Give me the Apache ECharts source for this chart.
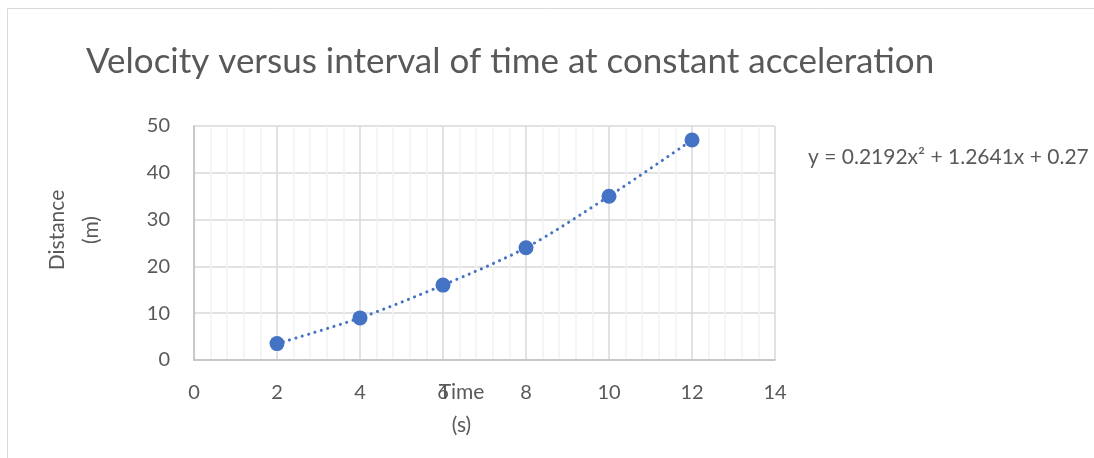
<!DOCTYPE html>
<html>
<head>
<meta charset="utf-8">
<script src="https://cdn.jsdelivr.net/npm/echarts@6/dist/echarts.min.js"></script>
<style>
    html, body { margin: 0; padding: 0; background: #fff; }
    #chart { width: 1094px; height: 458px; }
</style>
</head>
<body>
<div id="chart"></div>
<script type="text/javascript">
    // time (s) and distance (m)
    var timeValues = [2, 4, 6, 8, 10, 12];
    var distanceValues = [3.5, 9, 16, 24, 35, 47];
    // trendline equation shown beside the plot
    var trendCoefs = ['0.2192', '1.2641', '0.27'];

    var points = timeValues.map(function(t, i) {
        return [t, distanceValues[i]];
    });

    var font = 'Lato';
    var grey = '#595959';
    var blue = '#4472C4';

    var myChart = echarts.init(document.getElementById('chart'));
    var option = {
        animation: false,
        backgroundColor: '#fff',
        title: {
            text: 'Velocity versus interval of time at constant acceleration',
            left: 81,
            top: 39,
            textStyle: { fontFamily: font, fontSize: 35, fontWeight: 'normal', color: grey }
        },
        graphic: [
            {
                type: 'rect',
                shape: { x: 7.5, y: 8.5, width: 1200, height: 600 },
                style: { fill: null, stroke: '#d9d9d9', lineWidth: 1 },
                silent: true
            },
            {
                type: 'text',
                left: 808,
                top: 147,
                style: {
                    text: 'y = ' + trendCoefs[0] + 'x² + ' + trendCoefs[1] + 'x + ' + trendCoefs[2],
                    fontFamily: font,
                    fontSize: 21,
                    fill: grey
                }
            }
        ],
        grid: { left: 194, top: 126, right: 319, bottom: 98, outerBoundsMode: 'none' },
        xAxis: {
            type: 'value',
            min: 0,
            max: 14,
            interval: 2,
            name: 'Time\n(s)',
            nameLocation: 'middle',
            nameGap: 16,
            nameMoveOverlap: false,
            nameTextStyle: { fontFamily: font, fontSize: 21, color: grey, lineHeight: 33, verticalAlign: 'top', padding: [0, 46, 0, 0] },
            axisLine: { show: true, lineStyle: { color: '#bfbfbf', width: 1.5 } },
            axisTick: { show: false },
            axisLabel: { fontFamily: font, fontSize: 20, color: grey, margin: 23 },
            splitLine: { show: true, lineStyle: { color: '#d9d9d9', width: 1.5 } },
            minorTick: { show: false, splitNumber: 5 },
            minorSplitLine: { show: true, lineStyle: { color: '#f2f2f2', width: 1.5 } }
        },
        yAxis: {
            type: 'value',
            min: 0,
            max: 50,
            interval: 10,
            name: 'Distance\n(m)',
            nameLocation: 'middle',
            nameGap: 86,
            nameMoveOverlap: false,
            nameTextStyle: { fontFamily: font, fontSize: 21, color: grey, lineHeight: 34, padding: [0, 0, 0, 26] },
            axisLine: { show: true, lineStyle: { color: '#bfbfbf', width: 1.5 } },
            axisTick: { show: false },
            axisLabel: { fontFamily: font, fontSize: 20, color: grey, margin: 24 },
            splitLine: { show: true, lineStyle: { color: '#d9d9d9', width: 1.5 } }
        },
        series: [
            {
                name: 'trend',
                type: 'line',
                data: points,
                smooth: 0.3,
                symbol: 'none',
                lineStyle: { color: blue, width: 3, type: [0.1, 6.5], cap: 'round' },
                z: 2
            },
            {
                name: 'Distance',
                type: 'scatter',
                data: points,
                symbolSize: 15,
                itemStyle: { color: blue, opacity: 1 },
                z: 3
            }
        ]
    };
    myChart.setOption(option);
</script>
</body>
</html>
